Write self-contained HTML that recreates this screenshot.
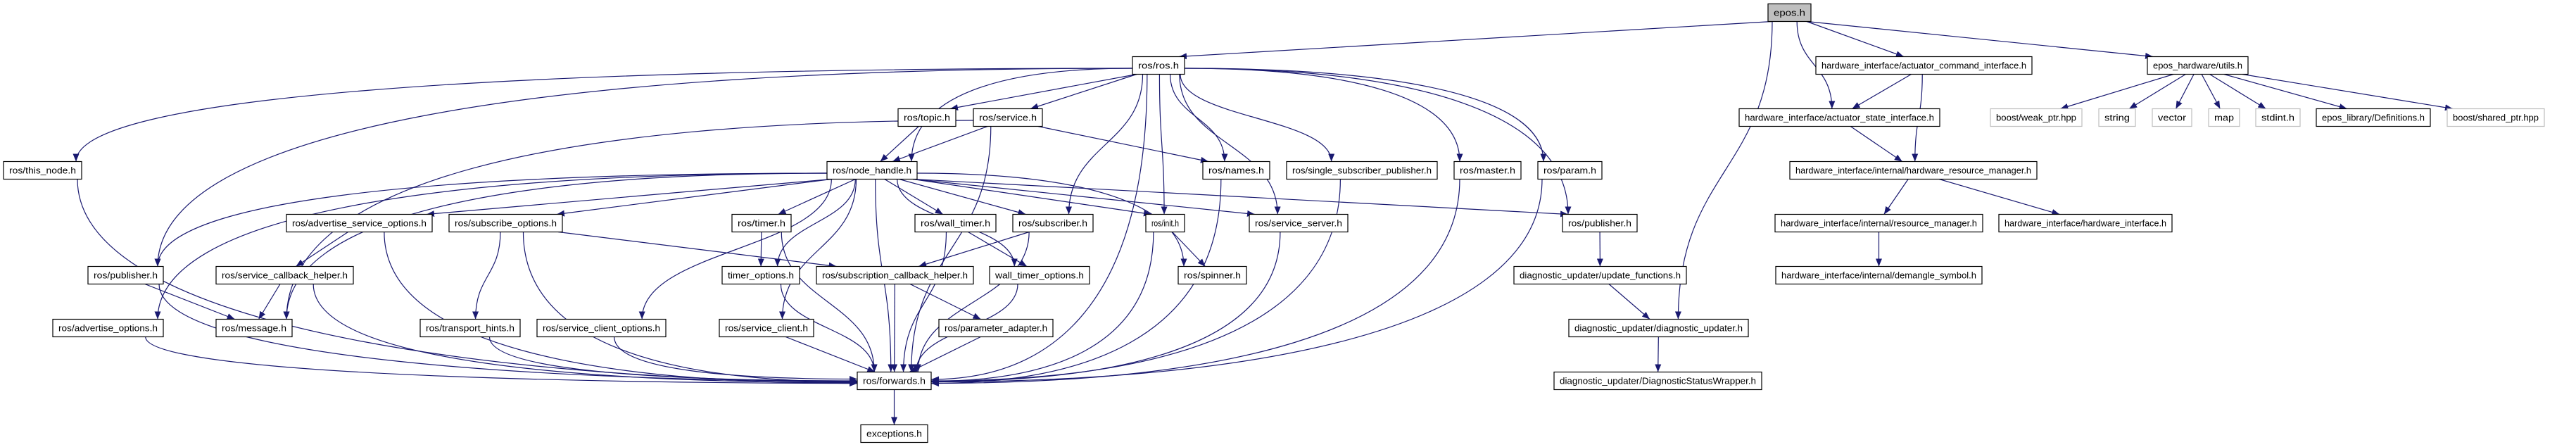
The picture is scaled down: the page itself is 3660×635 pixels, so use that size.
<!DOCTYPE html>
<html><head><meta charset="utf-8">
<style>
html,body{margin:0;padding:0;background:#fff;width:3660px;height:635px;overflow:hidden}
svg text{font-family:"Liberation Sans Narrow","Liberation Sans",sans-serif;font-size:13px;fill:#000}
</style></head><body>
<svg id="g" width="3660" height="635" viewBox="0 0 3660 635" xmlns="http://www.w3.org/2000/svg">
<defs><marker id="a" markerUnits="userSpaceOnUse" markerWidth="12" markerHeight="9" refX="11" refY="4.5" orient="auto"><path d="M0,0 L11,4.5 L0,9 z" fill="#191970"/></marker></defs>
<g id="edges" fill="none" stroke="#191970" stroke-width="1.2"></g>
<g id="nodes"></g>
</svg>
<div id="labels" style="display:none">
<span data-k="epos" data-x="2512,2573" data-r="1" data-f="#bfbfbf">epos.h</span>
<span data-k="ros" data-x="1609,1683" data-r="2">ros/ros.h</span>
<span data-k="aci" data-x="2580,2887" data-r="2">hardware_interface/actuator_command_interface.h</span>
<span data-k="utils" data-x="3051,3194" data-r="2">epos_hardware/utils.h</span>
<span data-k="topic" data-x="1276,1358" data-r="3">ros/topic.h</span>
<span data-k="service" data-x="1383,1481" data-r="3">ros/service.h</span>
<span data-k="asi" data-x="2471,2756" data-r="3">hardware_interface/actuator_state_interface.h</span>
<span data-k="weak" data-x="2828,2958" data-r="3" data-s="#bfbfbf">boost/weak_ptr.hpp</span>
<span data-k="string" data-x="2982,3034" data-r="3" data-s="#bfbfbf">string</span>
<span data-k="vector" data-x="3058,3114" data-r="3" data-s="#bfbfbf">vector</span>
<span data-k="map" data-x="3138,3182" data-r="3" data-s="#bfbfbf">map</span>
<span data-k="stdint" data-x="3205,3268" data-r="3" data-s="#bfbfbf">stdint.h</span>
<span data-k="defs" data-x="3291,3453" data-r="3">epos_library/Definitions.h</span>
<span data-k="shared" data-x="3477,3615" data-r="3" data-s="#bfbfbf">boost/shared_ptr.hpp</span>
<span data-k="thisnode" data-x="5,116" data-r="4">ros/this_node.h</span>
<span data-k="nh" data-x="1175,1303" data-r="4">ros/node_handle.h</span>
<span data-k="names" data-x="1709,1804" data-r="4">ros/names.h</span>
<span data-k="ssp" data-x="1828,2042" data-r="4">ros/single_subscriber_publisher.h</span>
<span data-k="master" data-x="2066,2161" data-r="4">ros/master.h</span>
<span data-k="param" data-x="2185,2276" data-r="4">ros/param.h</span>
<span data-k="hrm" data-x="2543,2894" data-r="4">hardware_interface/internal/hardware_resource_manager.h</span>
<span data-k="aso" data-x="407,614" data-r="5">ros/advertise_service_options.h</span>
<span data-k="so" data-x="638,799" data-r="5">ros/subscribe_options.h</span>
<span data-k="timer" data-x="1040,1124" data-r="5">ros/timer.h</span>
<span data-k="wtimer" data-x="1300,1415" data-r="5">ros/wall_timer.h</span>
<span data-k="sub" data-x="1439,1553" data-r="5">ros/subscriber.h</span>
<span data-k="init" data-x="1628,1683" data-r="5">ros/init.h</span>
<span data-k="ss" data-x="1775,1915" data-r="5">ros/service_server.h</span>
<span data-k="pub2" data-x="2220,2326" data-r="5">ros/publisher.h</span>
<span data-k="rm" data-x="2522,2817" data-r="5">hardware_interface/internal/resource_manager.h</span>
<span data-k="hi" data-x="2840,3086" data-r="5">hardware_interface/hardware_interface.h</span>
<span data-k="pub" data-x="125,232" data-r="6">ros/publisher.h</span>
<span data-k="sch" data-x="307,502" data-r="6">ros/service_callback_helper.h</span>
<span data-k="to" data-x="1026,1136" data-r="6">timer_options.h</span>
<span data-k="scbh" data-x="1160,1383" data-r="6">ros/subscription_callback_helper.h</span>
<span data-k="wto" data-x="1406,1548" data-r="6">wall_timer_options.h</span>
<span data-k="spin" data-x="1674,1771" data-r="6">ros/spinner.h</span>
<span data-k="uf" data-x="2151,2396" data-r="6">diagnostic_updater/update_functions.h</span>
<span data-k="dem" data-x="2523,2816" data-r="6">hardware_interface/internal/demangle_symbol.h</span>
<span data-k="ao" data-x="75,232" data-r="7">ros/advertise_options.h</span>
<span data-k="msg" data-x="307,415" data-r="7">ros/message.h</span>
<span data-k="th" data-x="597,739" data-r="7">ros/transport_hints.h</span>
<span data-k="sco" data-x="763,946" data-r="7">ros/service_client_options.h</span>
<span data-k="sc" data-x="1022,1156" data-r="7">ros/service_client.h</span>
<span data-k="pa" data-x="1334,1496" data-r="7">ros/parameter_adapter.h</span>
<span data-k="du" data-x="2229,2484" data-r="7">diagnostic_updater/diagnostic_updater.h</span>
<span data-k="fwd" data-x="1218,1323" data-r="8">ros/forwards.h</span>
<span data-k="dsw" data-x="2208,2503" data-r="8">diagnostic_updater/DiagnosticStatusWrapper.h</span>
<span data-k="exc" data-x="1223,1318" data-r="9">exceptions.h</span>
</div>
<script>
var NS="http://www.w3.org/2000/svg";
var RC=[0,18,93,167,242,317,391,466,541,616];
var N={};var ng=document.getElementById("nodes");
document.querySelectorAll("#labels span").forEach(function(s){
 var xs=s.dataset.x.split(",").map(Number),r=+s.dataset.r;
 var n={x1:xs[0],x2:xs[1],cy:RC[r],top:RC[r]-12.5,bot:RC[r]+12.5,cx:(xs[0]+xs[1])/2};
 N[s.dataset.k]=n;
 var rect=document.createElementNS(NS,"rect");
 rect.setAttribute("x",n.x1);rect.setAttribute("y",n.top);rect.setAttribute("width",n.x2-n.x1);rect.setAttribute("height",25);
 rect.setAttribute("fill",s.dataset.f||"#fff");rect.setAttribute("stroke",s.dataset.s||"#000");rect.setAttribute("stroke-width","1.2");
 ng.appendChild(rect);
 var t=document.createElementNS(NS,"text");
 t.setAttribute("x",n.cx);t.setAttribute("y",n.cy+4.5);t.setAttribute("text-anchor","middle");
 t.setAttribute("textLength",(n.x2-n.x1-16));t.setAttribute("lengthAdjust","spacingAndGlyphs");
 t.textContent=s.textContent;ng.appendChild(t);
});
var E="epos>ros epos>aci epos>asi epos>du epos>utils aci>asi aci>hrm asi>hrm hrm>rm hrm>hi rm>dem "+
"utils>weak utils>string utils>vector utils>map utils>stdint utils>defs utils>shared "+
"ros>thisnode ros>pub ros>topic ros>service ros>nh ros>sub ros>init ros>names ros>ss ros>ssp ros>master ros>param ros>pub2 ros>fwd "+
"topic>nh service>nh service>names service>msg service>fwd "+
"nh>pub nh>ao nh>aso nh>so nh>msg nh>timer nh>to nh>wtimer nh>wto nh>sub nh>init nh>spin nh>ss nh>pub2 nh>sco nh>sc nh>fwd "+
"aso>sch aso>fwd sch>msg sch>fwd pub>msg pub>fwd ao>fwd so>th so>scbh so>fwd th>fwd sco>fwd timer>to timer>fwd to>fwd "+
"sub>scbh sub>fwd wtimer>wto wtimer>fwd wto>fwd scbh>fwd scbh>pa pa>fwd sc>fwd init>spin init>fwd names>fwd ss>fwd ssp>fwd master>fwd param>fwd "+
"thisnode>fwd pub2>uf uf>du du>dsw fwd>exc";
var eg=document.getElementById("edges");
function cl(v,a,b){return Math.max(a,Math.min(b,v));}
E.split(" ").forEach(function(e){
 var p=e.split(">"),s=N[p[0]],t=N[p[1]];if(!s||!t)return;
 var d;
 if(p[1]=="fwd"&&Math.abs(s.cx-t.cx)>260){
  var left=s.cx<t.cx,tx=left?t.x1:t.x2,ty=t.cy+((s.cx%7)-3);
  var sx=cl(s.cx+(tx-s.cx)*0.05,s.x1+6,s.x2-6),sy=s.bot;
  var dir=left?1:-1;
  d="M"+sx+","+sy+" C"+sx+","+(sy+(ty-sy)*0.8)+" "+(tx-dir*Math.min(400,Math.abs(tx-sx)*0.5))+","+ty+" "+tx+","+ty;
 } else {
  var tx=cl(t.cx+(s.cx-t.cx)*0.15,t.x1+8,t.x2-8);
  var dx=tx-s.cx,dy=t.top-s.bot;
  if(Math.abs(dx)>2.5*dy && Math.abs(dx)>250 && dy>100){
   var dir=dx<0?-1:1,sx=dir<0?s.x1:s.x2,sy=s.cy+4,ty=t.top;
   d="M"+sx+","+sy+" C"+(sx+dir*Math.abs(tx-sx)*0.6)+","+sy+" "+tx+","+(ty-(ty-sy)*0.7)+" "+tx+","+ty;
  } else {
   var sx=cl(s.cx+(t.cx-s.cx)*0.15,s.x1+6,s.x2-6),sy=s.bot,ty=t.top;
   if(dy>80) d="M"+sx+","+sy+" C"+sx+","+(sy+dy*0.5)+" "+tx+","+(ty-dy*0.5)+" "+tx+","+ty;
   else d="M"+sx+","+sy+" L"+tx+","+ty;
  }
 }
 var pa=document.createElementNS(NS,"path");pa.setAttribute("d",d);pa.setAttribute("marker-end","url(#a)");eg.appendChild(pa);
});
</script>
</body></html>
